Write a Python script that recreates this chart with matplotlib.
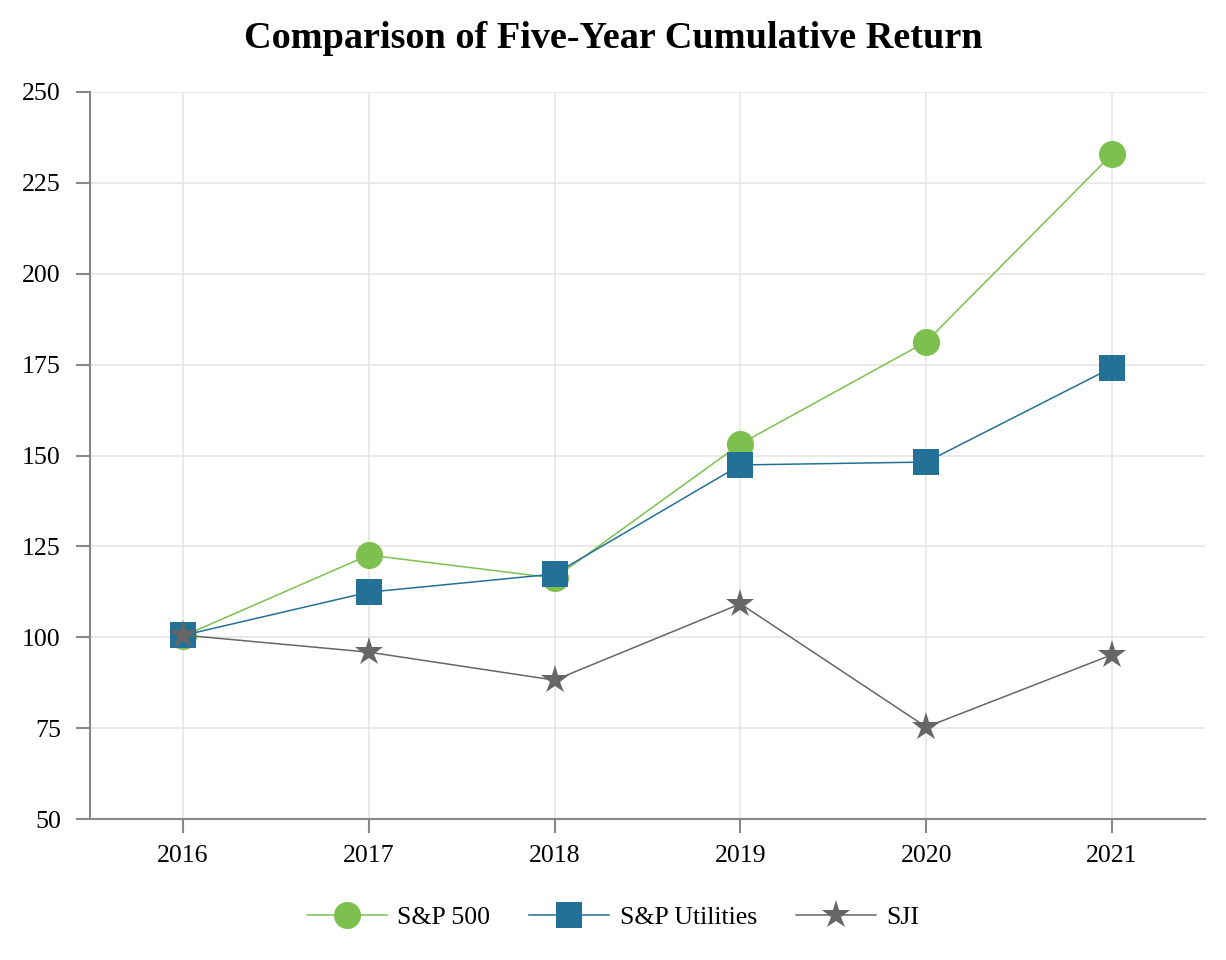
import matplotlib
matplotlib.use("Agg")
import matplotlib.pyplot as plt

years = [2016, 2017, 2018, 2019, 2020, 2021]
sp500 = [100.3, 122.6, 116.3, 153.2, 181.3, 232.9]
utilities = [100.5, 112.4, 117.4, 147.4, 148.2, 174.2]
sji = [100.6, 95.9, 88.2, 109.2, 75.3, 95.2]
yticks = [50, 75, 100, 125, 150, 175, 200, 225, 250]

plt.rcParams['font.family'] = ['Liberation Serif', 'DejaVu Serif']

fig = plt.figure(figsize=(12.26, 9.6), dpi=100)
ax = fig.add_axes([90/1226, 1-819/960, (1205-90)/1226, (819-92)/960])

ax.plot(years, sp500, color='#7DC04F', lw=1.1, marker='o', ms=19.5, mew=0, label='S&P 500', zorder=3)
ax.plot(years, utilities, color='#237196', lw=1.1, marker='s', ms=19, mew=0, label='S&P Utilities', zorder=4)
ax.plot(years, sji, color='#666666', lw=1.1, marker='*', ms=21, mew=0, label='SJI', zorder=5)

ax.set_xlim(2015.5, 2021.5)
ax.set_ylim(50, 250)
ax.set_xticks(years)
ax.set_xticklabels([str(y) for y in years])
ax.set_yticks(yticks)
ax.grid(True, color='#e6e6e6', lw=1.2)
ax.set_axisbelow(True)
for s in ['top', 'right']:
    ax.spines[s].set_visible(False)
for s in ['left', 'bottom']:
    ax.spines[s].set_color('#888888')
    ax.spines[s].set_linewidth(1.5)
ax.tick_params(axis='both', colors='#888888', length=10, width=1.5, labelsize=18.6, labelcolor='black')
ax.tick_params(axis='x', pad=9)
ax.tick_params(axis='y', pad=11)

fig.text(0.5, 1-39/960, 'Comparison of Five-Year Cumulative Return', fontsize=27.5, fontweight='bold',
         ha='center', va='center')

fig.legend(loc='center', bbox_to_anchor=(0.5, 1-917/960), ncol=3, frameon=False, fontsize=18.6,
           handlelength=3.1, columnspacing=1.5, handletextpad=0.4, markerscale=1.0)

fig.savefig('out.png', dpi=100)
